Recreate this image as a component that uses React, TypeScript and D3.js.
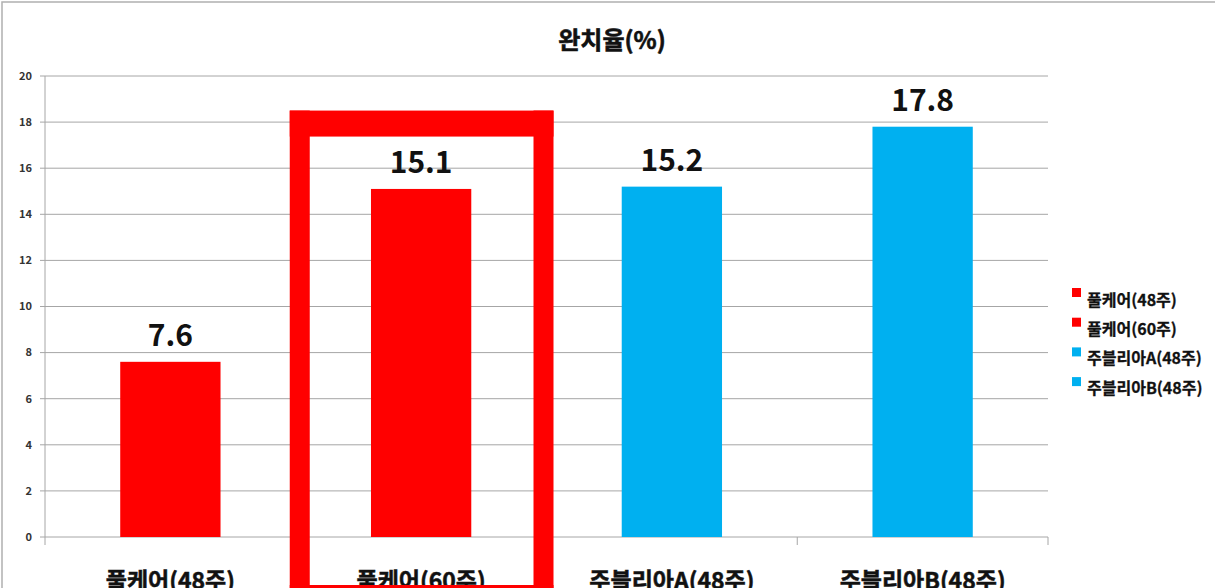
import React from "react";
import * as d3 from "d3";

const title = "완치율(%)";
const categories = ["풀케어(48주)", "풀케어(60주)", "주블리아A(48주)", "주블리아B(48주)"];
const values = [7.6, 15.1, 15.2, 17.8];
const colors = ["#FF0000", "#FF0000", "#00B0F0", "#00B0F0"];
const yTicks = [0, 2, 4, 6, 8, 10, 12, 14, 16, 18, 20];
const highlightIndex = 1;
const highlightTop = 18.5;

const W = 1215;
const H = 588;
const left = 45;
const right = 1048;
const top = 76;
const bottom = 537;
const FONT = "'Noto Sans CJK KR', 'Noto Sans', sans-serif";

export default function App() {
  const x = d3.scaleBand<string>().domain(categories).range([left, right]).paddingInner(0.6).paddingOuter(0.3);
  const y = d3.scaleLinear().domain([0, 20]).range([bottom, top]);
  const step = x.step();
  const boundaries = d3.range(categories.length + 1).map((i) => left + i * step);

  const hx0 = left + highlightIndex * step - 6;
  const hx1 = left + (highlightIndex + 1) * step + 7;
  const hy0 = y(highlightTop);
  const thick = 20;
  const thickTop = 26;
  const hBottomInner = 585;

  return (
    <svg width={W} height={H} style={{ position: "absolute", left: 0, top: 0, background: "#fff" }}>
      <rect x={0} y={0} width={W} height={H} fill="#fff" />
      <rect x={2} y={2} width={W + 10} height={H + 10} fill="none" stroke="#b0b0b0" strokeWidth={1.5} />
      <text x={612} y={49} textAnchor="middle" fontFamily={FONT} fontWeight={700} fontSize={24} fill="#111" stroke="#111" strokeWidth={0.6}>
        {title}
      </text>
      {yTicks.map((t) => (
        <g key={t}>
          <line x1={left} x2={right} y1={y(t)} y2={y(t)} stroke="#a6a6a6" strokeWidth={1} />
          <line x1={40} x2={left} y1={y(t)} y2={y(t)} stroke="#a6a6a6" strokeWidth={1} />
          <text x={32} y={y(t)} dy="0.35em" textAnchor="end" fontFamily={FONT} fontWeight={700} fontSize={11} fill="#333">
            {t}
          </text>
        </g>
      ))}
      <line x1={left} x2={left} y1={top} y2={bottom} stroke="#a6a6a6" strokeWidth={1} />
      {boundaries.map((b, i) => (
        <line key={i} x1={b} x2={b} y1={bottom} y2={bottom + 8} stroke="#a6a6a6" strokeWidth={1} />
      ))}
      {categories.map((c, i) => (
        <g key={c}>
          <rect x={x(c)} y={y(values[i])} width={x.bandwidth()} height={y(0) - y(values[i])} fill={colors[i]} />
          <text x={(x(c) as number) + x.bandwidth() / 2} y={y(values[i]) - 16} textAnchor="middle" fontFamily={FONT} fontWeight={700} fontSize={30} fill="#111">
            {values[i]}
          </text>
          <text x={(x(c) as number) + x.bandwidth() / 2} y={589} textAnchor="middle" fontFamily={FONT} fontWeight={700} fontSize={23} fill="#111" stroke="#111" strokeWidth={0.5}>
            {c}
          </text>
        </g>
      ))}
      {/* highlight box */}
      <g fill="#FF0000">
        <rect x={hx0} y={hy0} width={hx1 - hx0} height={thickTop} />
        <rect x={hx0} y={hy0} width={thick} height={H - hy0 + 5} />
        <rect x={hx1 - thick} y={hy0} width={thick} height={H - hy0 + 5} />
        <rect x={hx0} y={hBottomInner} width={hx1 - hx0} height={10} />
      </g>
      {categories.map((c, i) => (
        <g key={"lg" + c}>
          <rect x={1072} y={288 + i * 29.7} width={9} height={9} fill={colors[i]} />
          <text x={1087} y={300 + i * 29.3} dy="0.35em" fontFamily={FONT} fontWeight={700} fontSize={16} fill="#111" stroke="#111" strokeWidth={0.3}>
            {c}
          </text>
        </g>
      ))}
    </svg>
  );
}
